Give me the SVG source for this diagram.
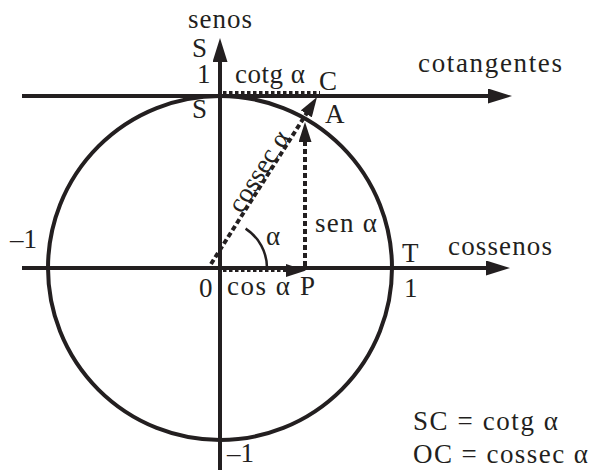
<svg xmlns="http://www.w3.org/2000/svg" width="590" height="470" viewBox="0 0 590 470">
<style>
text { font-family: "Liberation Serif", "Times New Roman", serif; font-size: 27px; fill: #231f20; }
.ax { stroke: #231f20; stroke-width: 4; fill: none; }
.dash { stroke: #231f20; stroke-width: 4; stroke-dasharray: 5 3; fill: none; }
.dot { stroke: #231f20; stroke-width: 3; stroke-dasharray: 3.5 2.5; fill: none; }
.thin { stroke: #231f20; stroke-width: 2.5; fill: none; }
</style>
<defs>
<marker id="big" markerUnits="userSpaceOnUse" viewBox="0 0 24 15" refX="14" refY="7.5" markerWidth="24" markerHeight="15" orient="auto">
<path d="M0,0 L24,7.5 L0,15 z" fill="#231f20"/>
</marker>
<marker id="small" markerUnits="userSpaceOnUse" viewBox="0 0 20 13" refX="8" refY="6.5" markerWidth="20" markerHeight="13" orient="auto">
<path d="M0,0 L20,6.5 L0,13 z" fill="#231f20"/>
</marker>
</defs>
<rect width="590" height="470" fill="#ffffff"/>
<g id="circle">
<circle class="ax" cx="220" cy="268" r="172"/>
</g>
<g id="axes">
<line class="ax" x1="22" y1="268" x2="500" y2="268" marker-end="url(#big)"/>
<line class="ax" x1="220" y1="470" x2="220" y2="48" marker-end="url(#big)"/>
<line class="ax" x1="22" y1="96" x2="502" y2="96" marker-end="url(#big)"/>
</g>
<g id="connectors">
<line class="dot" x1="223" y1="92.5" x2="320" y2="92.5"/>
<line class="dot" x1="223" y1="270.5" x2="294" y2="270.5" marker-end="url(#small)"/>
<line class="dash" x1="305" y1="266" x2="305" y2="134" marker-end="url(#small)"/>
<line class="dash" x1="211" y1="264" x2="310.6" y2="107.1" marker-end="url(#small)"/>
<path class="thin" d="M267,268 A47,47 0 0 0 245.6,228.6"/>
</g>
<g id="labels">
<text x="188" y="28" textLength="64" lengthAdjust="spacing">senos</text>
<text x="192" y="57">S</text>
<text x="197" y="83">1</text>
<text x="235" y="83" textLength="70" lengthAdjust="spacing">cotg α</text>
<text x="319" y="90">C</text>
<text x="192" y="118">S</text>
<text x="325" y="123">A</text>
<text x="418" y="72" textLength="144" lengthAdjust="spacing">cotangentes</text>
<text transform="translate(266,176) rotate(-57.6)" text-anchor="middle">cossec α</text>
<text x="266" y="245">α</text>
<text x="315" y="232" textLength="62" lengthAdjust="spacing">sen α</text>
<text x="402" y="262">T</text>
<text x="404" y="297">1</text>
<text x="448" y="255" textLength="104" lengthAdjust="spacing">cossenos</text>
<text x="10" y="248">–1</text>
<text x="199" y="297">0</text>
<text x="227" y="295" textLength="63" lengthAdjust="spacing">cos α</text>
<text x="300" y="295">P</text>
<text x="227" y="462">–1</text>
<text x="413" y="430" textLength="145" lengthAdjust="spacing">SC = cotg α</text>
<text x="413" y="463" textLength="175" lengthAdjust="spacing">OC = cossec α</text>
</g>
</svg>
